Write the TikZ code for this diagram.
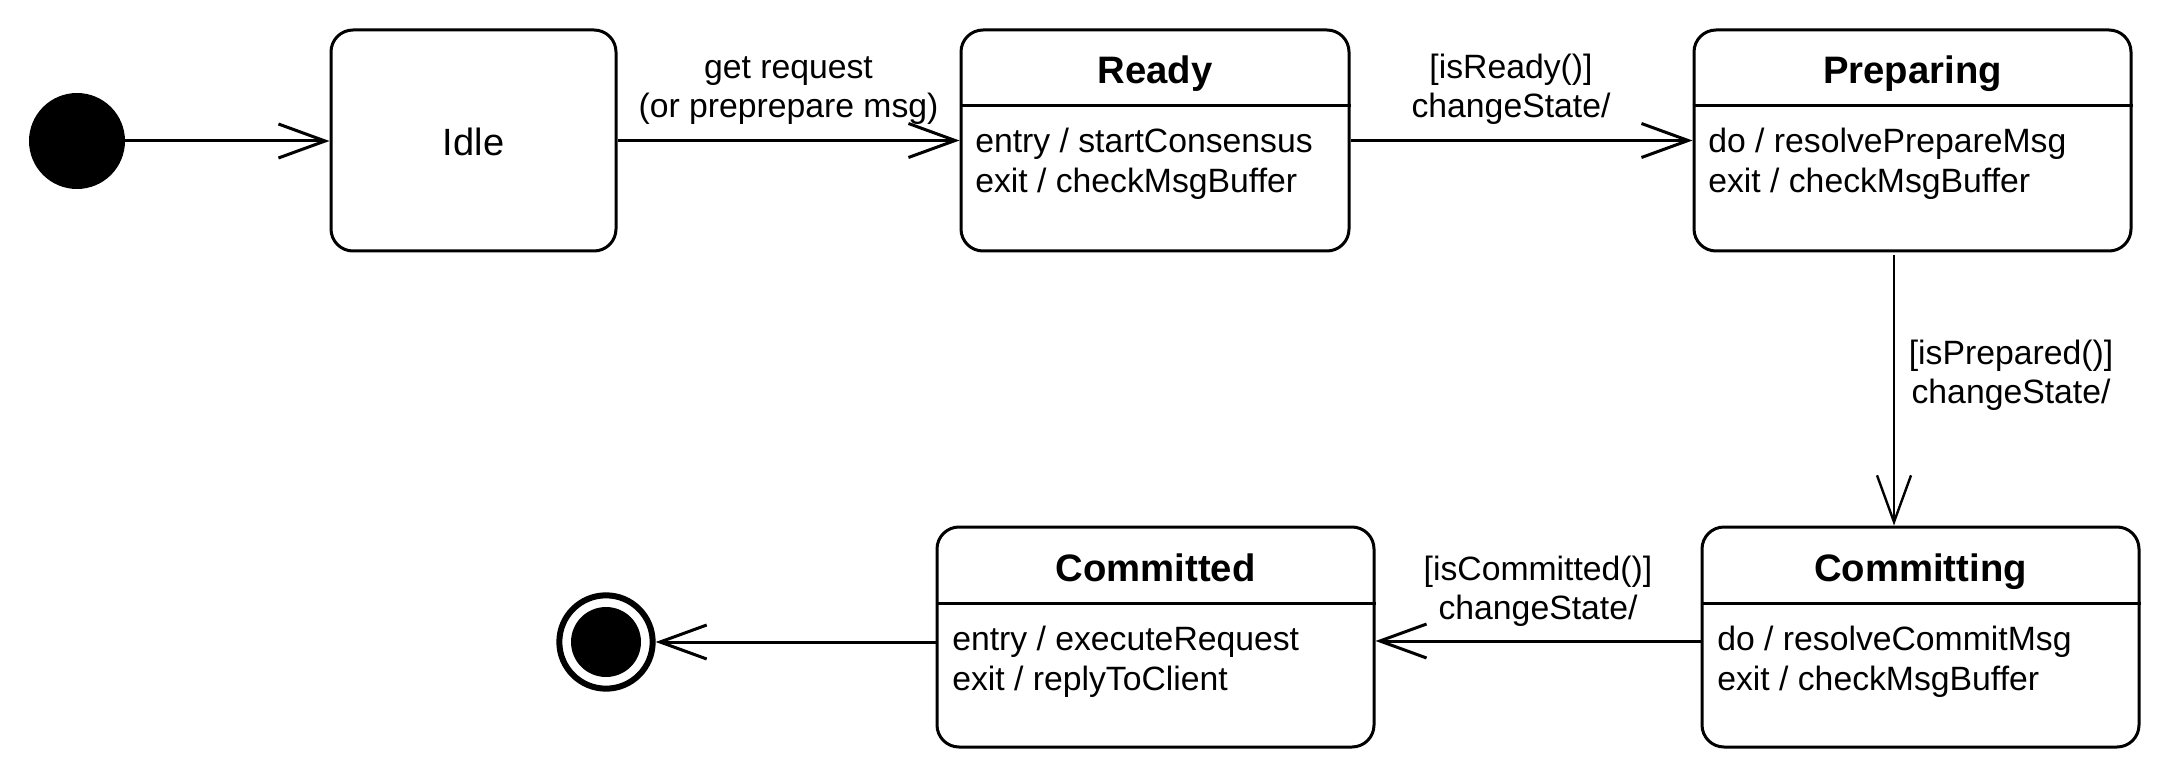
\documentclass[tikz,border=0pt]{standalone}
\usepackage{fontspec}
\setmainfont{Liberation Sans}
\usetikzlibrary{arrows.meta,calc}
\tikzset{
  state/.style={draw, line width=2.25pt, rounded corners=16.5pt, inner sep=0pt, fill=white},
  sepline/.style={line width=2.25pt},
  title/.style={font=\fontsize{28.7pt}{34pt}\selectfont\bfseries, anchor=base, inner sep=0pt},
  body/.style={font=\fontsize{25.3pt}{30pt}\selectfont, anchor=base west, inner sep=0pt},
  lbl/.style={font=\fontsize{25.3pt}{30pt}\selectfont, anchor=base, inner sep=0pt},
  trans/.style={line width=2.25pt, -{Straight Barb[length=35pt,width=25.5pt]}},
}
\begin{document}
\begin{tikzpicture}[x=0.75pt,y=-0.75pt]
\useasboundingbox (0,0) rectangle (2169,777);
% initial and final pseudo-states
\node[circle, fill=black, minimum size=72pt, inner sep=0pt] (init) at (77,141) {};
\node[circle, draw, line width=4.5pt, minimum size=70pt, inner sep=0pt] (final) at (606,642) {};
\node[circle, fill=black, minimum size=52.5pt, inner sep=0pt] (finalin) at (final) {};
% Idle
\node[state, minimum width=213.75pt, minimum height=165.75pt] (idle) at (473.5,140.5) {};
\node[font=\fontsize{28.5pt}{34pt}\selectfont, anchor=base, inner sep=0pt] (idlet) at (473.5,156) {Idle};
% Ready
\node[state, minimum width=291pt, minimum height=165.75pt] (ready) at (1155,140.5) {};
\coordinate (ry) at (0,106);
\draw[sepline] (ready.west |- ry) -- (ready.east |- ry);
\node[title] (readyt) at (1155,84) {Ready};
\node[body] (ready1) at (975,153) {entry / startConsensus};
\node[body] (ready2) at (975,193) {exit / checkMsgBuffer};
% Preparing
\node[state, minimum width=327.75pt, minimum height=165.75pt] (prep) at (1912.5,140.5) {};
\draw[sepline] (prep.west |- ry) -- (prep.east |- ry);
\node[title] (prept) at (1912.5,84) {Preparing};
\node[body] (prep1) at (1708,153) {do / resolvePrepareMsg};
\node[body] (prep2) at (1708,193) {exit / checkMsgBuffer};
% Committing
\node[state, minimum width=327.75pt, minimum height=165pt] (cmt) at (1920.5,637) {};
\coordinate (cy) at (0,603);
\draw[sepline] (cmt.west |- cy) -- (cmt.east |- cy);
\node[title] (cmtt) at (1920.5,581) {Committing};
\node[body] (cmt1) at (1717,650) {do / resolveCommitMsg};
\node[body] (cmt2) at (1717,690) {exit / checkMsgBuffer};
% Committed
\node[state, minimum width=327.75pt, minimum height=165pt] (cmtd) at (1155.5,637) {};
\draw[sepline] (cmtd.west |- cy) -- (cmtd.east |- cy);
\node[title] (cmtdt) at (1155.5,581) {Committed};
\node[body] (cmtd1) at (952,650) {entry / executeRequest};
\node[body] (cmtd2) at (952,690) {exit / replyToClient};
% transitions
\draw[trans] (init) -- (init -| idle.west);
\draw[trans] (idle) -- (ready);
\draw[trans] (ready) -- (prep);
\coordinate (vx) at (1894,0);
\draw[trans, line width=1.8pt, shorten <=2.25pt] (prep.south -| vx) -- (cmt.north -| vx);
\coordinate (hy) at (0,641);
\draw[trans] (cmt.west |- hy) -- (cmtd.east |- hy);
\draw[trans] (cmtd.west |- final) -- (final);
% labels
\node[lbl] (l1a) at (788.5,79) {get request};
\node[lbl] (l1b) at (788.5,118) {(or preprepare msg)};
\node[lbl] (l2a) at (1511,79) {[isReady()]};
\node[lbl] (l2b) at (1511,118) {changeState/};
\node[lbl] (l3a) at (2011,364) {[isPrepared()]};
\node[lbl] (l3b) at (2011,403) {changeState/};
\node[lbl] (l4a) at (1538,580) {[isCommitted()]};
\node[lbl] (l4b) at (1538,619) {changeState/};
\end{tikzpicture}
\end{document}
